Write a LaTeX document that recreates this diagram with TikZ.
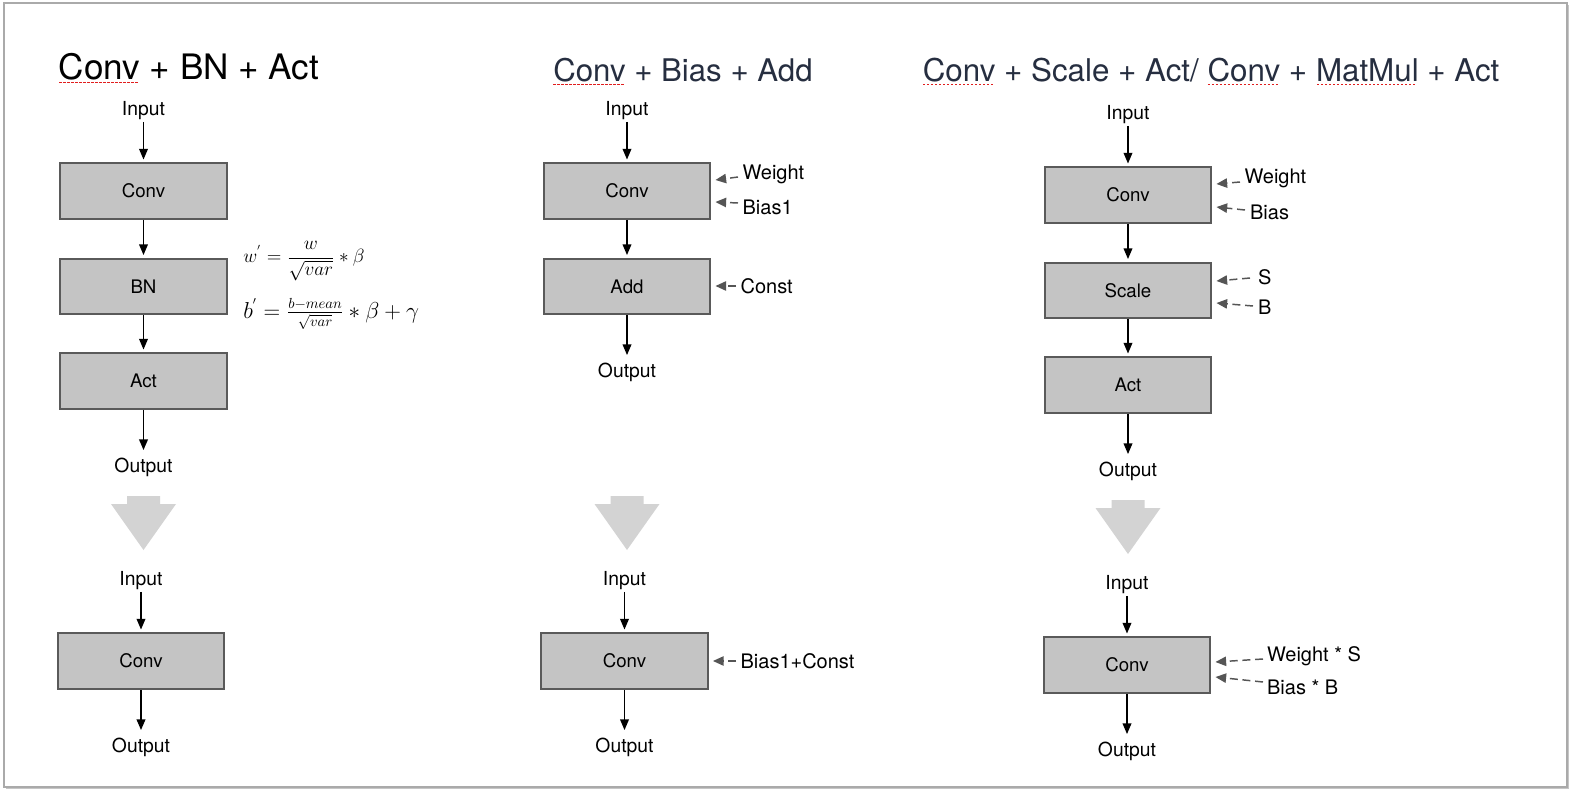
\documentclass[tikz,border=0pt]{standalone}
\usepackage{fontspec}
\setmainfont{TeX Gyre Heros}
\usepackage{tikz}
\usetikzlibrary{shadows}
\usetikzlibrary{positioning}
\usetikzlibrary{arrows.meta,shapes}
\usetikzlibrary{calc}
\definecolor{boxfill}{RGB}{196,196,196}
\definecolor{boxline}{RGB}{90,90,90}
\definecolor{paramline}{RGB}{85,85,85}
\definecolor{titlecol}{RGB}{38,46,64}
\definecolor{arrowgrey}{RGB}{211,211,211}
\definecolor{framegrey}{RGB}{170,170,170}
\definecolor{spellred}{RGB}{225,30,30}
\tikzstyle{opbox}=[rectangle,draw=boxline,fill=boxfill,line width=1.7pt,minimum width=125pt,minimum height=41.5pt,inner sep=0pt,font=\fontsize{14}{16}\selectfont]
\tikzstyle{iolabel}=[font=\fontsize{14.5}{17}\selectfont,inner sep=1pt]
\tikzstyle{paramlabel}=[anchor=west,font=\fontsize{15}{18}\selectfont,inner sep=1pt]
\tikzstyle{title}=[anchor=base west,inner sep=0pt]
\tikzstyle{formula}=[anchor=west,inner sep=0pt]
\tikzstyle{flow} = [draw,line width=1.1pt,-{Triangle[length=8pt,width=6.5pt]},shorten >=2pt]
\tikzstyle{param} = [draw,paramline,line width=1.1pt,dash pattern=on 6pt off 3.5pt,-{Triangle[length=8pt,width=7pt]}]
\tikzstyle{bigarrow}=[fill=arrowgrey]
\newsavebox{\spellbox}
\newcommand{\spellmark}[1]{\sbox{\spellbox}{#1}\rlap{\hbox to \wd\spellbox{\cleaders\hbox{\textcolor{spellred}{\rule[-2.6pt]{1.6pt}{1.1pt}}\kern1.4pt}\hfill}}\usebox{\spellbox}}

\begin{document}
\begin{tikzpicture}[x=0.75pt,y=-0.75pt]
\useasboundingbox (0,0) rectangle (1572,792);

% frame
\draw[draw=framegrey,line width=1pt,fill=white,drop shadow={shadow xshift=1.2pt,shadow yshift=-1.2pt,opacity=0.45}] (4,3) rectangle (1567,787);

% titles
\node[title,font=\fontsize{26.3}{30}\selectfont] (t1) at (58.5,80) {\spellmark{Conv} + BN + Act};
\node[title,text=titlecol,font=\fontsize{23.4}{27}\selectfont] (t2) at (553,82) {\spellmark{Conv} + Bias + Add};
\node[title,text=titlecol,font=\fontsize{23.5}{27}\selectfont] (t3) at (922.5,82) {\spellmark{Conv} + Scale + Act/ \spellmark{Conv} + \spellmark{MatMul} + Act};

    % First we draw the operators
    \foreach \pos/\name/\label in {{(143.5,191)/conv1/Conv}, {(143.5,286.5)/bn1/BN}, {(143.5,381)/act1/Act}, {(141,661)/conv1b/Conv},
        {(627,191)/conv2/Conv}, {(627,286.5)/add2/Add}, {(624.5,661)/conv2b/Conv},
        {(1128,195)/conv3/Conv}, {(1128,290.5)/scale3/Scale}, {(1128,385)/act3/Act}, {(1127,665)/conv3b/Conv}}
        \node[opbox] (\name) at \pos {\label};

    \foreach \pos/\name/\label in {{(143.5,111)/in1/Input}, {(143.5,467)/out1/Output}, {(141,581)/in1b/Input}, {(141,747)/out1b/Output},
        {(627,111)/in2/Input}, {(627,372)/out2/Output}, {(624.5,581)/in2b/Input}, {(624.5,747)/out2b/Output},
        {(1128,115)/in3/Input}, {(1128,471)/out3/Output}, {(1127,585)/in3b/Input}, {(1127,751)/out3b/Output}}
        \node[iolabel] (\name) at \pos {\label};

    \foreach \pos/\name/\label in {{(741,174.5)/w2/Weight}, {(741,207.5)/b2/Bias1}, {(739,286)/c2/Const}, {(739,661)/bc2/Bias1+Const},
        {(1243,178)/w3/Weight}, {(1248.5,212.5)/b3/Bias}, {(1256.5,277.5)/s3/S}, {(1256.5,307.5)/bb3/B},
        {(1265.5,656)/ws3/Weight * S}, {(1265.5,687)/bs3/Bias * B}}
        \node[paramlabel] (\name) at \pos {\label};

    % Connect operators
  \foreach \source/ \dest in {in1/conv1, conv1/bn1, bn1/act1, in1b/conv1b, in2/conv2, conv2/add2, in2b/conv2b, in3/conv3, conv3/scale3, scale3/act3, in3b/conv3b}
          \path[flow] (\source) -- (\dest);
  \foreach \source/ \dest in {act1/out1, conv1b/out1b, add2/out2, conv2b/out2b, act3/out3, conv3b/out3b}
          \path[flow, shorten >=4.5pt] (\source) -- (\dest);

    % weights and constants
  \foreach \source/ \dest /\gap/\ys/\ye in {w2/conv2/3/177/180, b2/conv2/3/203/202, c2/add2/3/286/286, bc2/conv2b/3/661/661,
        w3/conv3/3/182/184, b3/conv3/3.5/210/207, s3/scale3/6.5/278/281, bb3/scale3/3.5/306/303, ws3/conv3b/2.5/659/662, bs3/conv3b/2.5/682/677}
          \path[param] ($(\source.west |- 0,\ys)+(-\gap,0)$) -- ($(\dest.east |- 0,\ye)+(4,0)$);

    % folding arrows
  \foreach \cx/\ty in {143.5/496, 627/496, 1128/500}
          \fill[bigarrow] (\cx-16.5,\ty) -- (\cx+16.5,\ty) -- (\cx+16.5,\ty+8) -- (\cx+32.5,\ty+8) -- (\cx,\ty+54) -- (\cx-32.5,\ty+8) -- (\cx-16.5,\ty+8) -- cycle;

%BN folding
\node[formula,font=\fontsize{14}{16}\selectfont] (fw) at (243,261) {$w^{'} = {\displaystyle\frac{w}{\sqrt{var}}} * \beta$};
\node[formula,font=\fontsize{16}{18}\selectfont] (fb) at (243,314) {$b^{'} = \frac{b-mean}{\sqrt{var}} * \beta + \gamma$};

\end{tikzpicture}
\end{document}
